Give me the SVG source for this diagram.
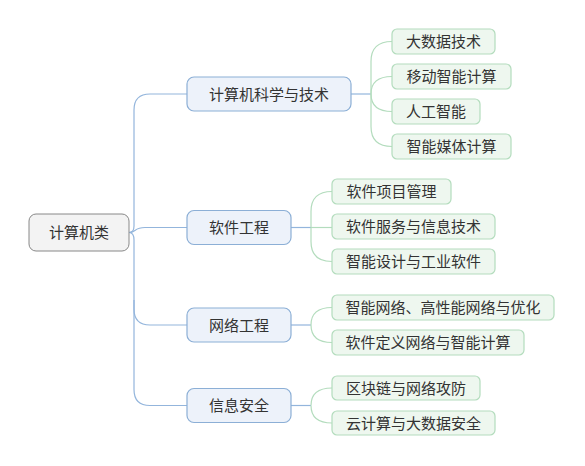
<svg xmlns="http://www.w3.org/2000/svg" width="585" height="466" viewBox="0 0 585 466">
<style>
text{font-family:"Noto Sans CJK SC","Noto Sans",sans-serif;font-size:15px;fill:#333;text-anchor:middle}
.root{fill:#f3f3f3;stroke:#888;stroke-width:1}
.l1{fill:#edf2fa;stroke:#8cafd6;stroke-width:1.2}
.l2{fill:#eef7ef;stroke:#b3dcbd;stroke-width:1.2}
.cb{fill:none;stroke:#93b5dc;stroke-width:1.2}
.cg{fill:none;stroke:#b3dcbd;stroke-width:1.2}
</style>
<rect width="585" height="466" fill="#fff"/>
<g id="connectors">
<path class="cb" d="M129 232.5 Q134 232.5 134 226 V110 Q134 94 150 94 H187"/>
<path class="cb" d="M129 232.5 C136 232.5 134 227.5 145 227.5 H187"/>
<path class="cb" d="M129 232.5 Q134 232.5 134 240 V309 Q134 325 150 325 H187"/>
<path class="cb" d="M134 300 V389.5 Q134 405.5 150 405.5 H187"/>
<path class="cb" d="M351 94 H371"/>
<path class="cb" d="M291 227.5 H311"/>
<path class="cb" d="M291 325 H311"/>
<path class="cb" d="M291 405.5 H311"/>
<path class="cg" d="M371 94 V61.5 Q371 41.5 392 41.5"/>
<path class="cg" d="M371 94 Q371 76.5 392 76.5"/>
<path class="cg" d="M371 94 Q371 111.5 392 111.5"/>
<path class="cg" d="M371 94 V126.5 Q371 146.5 392 146.5"/>
<path class="cg" d="M311 227.5 V211.5 Q311 191.5 332 191.5"/>
<path class="cg" d="M311 227.5 H332"/>
<path class="cg" d="M311 227.5 V241.5 Q311 261.5 332 261.5"/>
<path class="cg" d="M311 325 Q311 307.5 332 307.5"/>
<path class="cg" d="M311 325 Q311 342.5 332 342.5"/>
<path class="cg" d="M311 405.5 Q311 388 332 388"/>
<path class="cg" d="M311 405.5 Q311 423 332 423"/>
</g>
<g id="root"><rect class="root" x="29" y="214" width="100" height="37" rx="7"/><text x="79" y="238">计算机类</text></g>
<g id="n1"><rect class="l1" x="187" y="77" width="164" height="34" rx="7"/><text x="269" y="99.5">计算机科学与技术</text></g>
<g id="n2"><rect class="l1" x="187" y="210.5" width="104" height="34" rx="7"/><text x="239" y="233">软件工程</text></g>
<g id="n3"><rect class="l1" x="187" y="308" width="104" height="34" rx="7"/><text x="239" y="330.5">网络工程</text></g>
<g id="n4"><rect class="l1" x="187" y="388.5" width="104" height="34" rx="7"/><text x="239" y="411">信息安全</text></g>
<g id="n1a"><rect class="l2" x="392" y="29" width="103" height="25" rx="5"/><text x="443.5" y="47">大数据技术</text></g>
<g id="n1b"><rect class="l2" x="392" y="64" width="119" height="25" rx="5"/><text x="451.5" y="82">移动智能计算</text></g>
<g id="n1c"><rect class="l2" x="392" y="99" width="88" height="25" rx="5"/><text x="436" y="117">人工智能</text></g>
<g id="n1d"><rect class="l2" x="392" y="134" width="119" height="25" rx="5"/><text x="451.5" y="152">智能媒体计算</text></g>
<g id="n2a"><rect class="l2" x="332" y="179" width="119" height="25" rx="5"/><text x="391.5" y="197">软件项目管理</text></g>
<g id="n2b"><rect class="l2" x="332" y="214" width="163" height="25" rx="5"/><text x="413.5" y="232">软件服务与信息技术</text></g>
<g id="n2c"><rect class="l2" x="332" y="249" width="163" height="25" rx="5"/><text x="413.5" y="267">智能设计与工业软件</text></g>
<g id="n3a"><rect class="l2" x="332" y="295" width="222" height="25" rx="5"/><text x="443" y="313">智能网络、高性能网络与优化</text></g>
<g id="n3b"><rect class="l2" x="332" y="330" width="192" height="25" rx="5"/><text x="428" y="348">软件定义网络与智能计算</text></g>
<g id="n4a"><rect class="l2" x="332" y="376" width="148" height="24" rx="5"/><text x="406" y="393.5">区块链与网络攻防</text></g>
<g id="n4b"><rect class="l2" x="332" y="411" width="163" height="24" rx="5"/><text x="413.5" y="428.5">云计算与大数据安全</text></g>
</svg>
